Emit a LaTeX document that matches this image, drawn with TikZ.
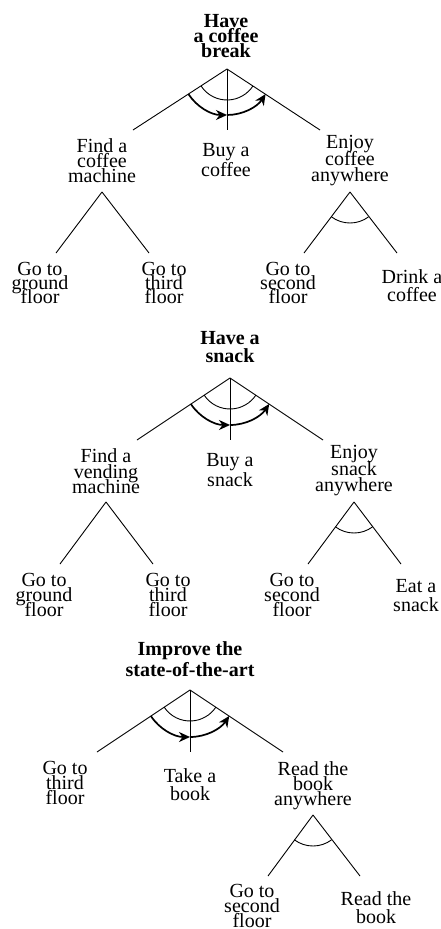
\documentclass[tikz,border=0pt]{standalone}
\usepackage{fontspec}
\setmainfont{Liberation Serif}
\usetikzlibrary{arrows.meta, calc}
\lineskiplimit=-100pt

\begin{document}
\begin{tikzpicture}[
    x=1pt, y=1pt,
    goal/.style={anchor=north, inner sep=0pt, align=center, font=\bfseries\fontsize{20}{#1}\selectfont},
    task/.style={anchor=north, inner sep=0pt, align=center, font=\fontsize{20}{#1}\selectfont},
    edge/.style={line width=0.9pt},
    andarc/.style={line width=0.9pt},
    arrow/.style={->, >={Stealth[length=11pt, width=10pt, inset=3.5pt]}, line width=1.7pt}
]
\useasboundingbox (0,0) rectangle (441,-929);

% coffee break
\node[goal=15] (g1) at (226,-14.5) {Have\\a coffee\\break};
\node[task=15] (a1) at (102,-138.5) {Find a\\coffee\\machine};
\node[task=20] (b1) at (226,-143.5) {Buy a\\coffee};
\node[task=16.5] (c1) at (350,-135.5) {Enjoy\\coffee\\anywhere};
\node[task=14] (a1l) at (40,-262.5) {Go to\\ground\\floor};
\node[task=14] (a1r) at (164,-262.5) {Go to\\third\\floor};
\node[task=14] (c1l) at (288,-262.5) {Go to\\second\\floor};
\node[task=18] (c1r) at (412,-269.5) {Drink a\\coffee};

\coordinate (g1-out) at (227,-69);
\coordinate (a1-in) at (133,-130);
\coordinate (b1-in) at (227,-130);
\coordinate (c1-in) at (320,-130);
\coordinate (a1-out) at (102,-192);
\coordinate (a1l-in) at (56,-253);
\coordinate (a1r-in) at (149,-253);
\coordinate (c1-out) at (350,-192);
\coordinate (c1l-in) at (304,-253);
\coordinate (c1r-in) at (397,-253);

\draw[edge] (g1-out) -- (a1-in);
\draw[edge] (g1-out) -- (b1-in);
\draw[edge] (g1-out) -- (c1-in);
\draw[edge] (a1-out) -- (a1l-in);
\draw[edge] (a1-out) -- (a1r-in);
\draw[edge] (c1-out) -- (c1l-in);
\draw[edge] (c1-out) -- (c1r-in);

\draw[andarc] ([shift={(213:31)}]g1-out) arc[start angle=213, end angle=327, radius=31];
\draw[arrow] ([shift={(213:46)}]g1-out) arc[start angle=213, end angle=270, radius=46];
\draw[arrow] ([shift={(270:46)}]g1-out) arc[start angle=270, end angle=327, radius=46];
\draw[andarc] ([shift={(233:31)}]c1-out) arc[start angle=233, end angle=307, radius=31];

% snack
\node[goal=18] (g2) at (230,-331.5) {Have a\\snack};
\node[task=15.5] (a2) at (106,-448.5) {Find a\\vending\\machine};
\node[task=20] (b2) at (230,-453.5) {Buy a\\snack};
\node[task=16.5] (c2) at (354,-445.5) {Enjoy\\snack\\anywhere};
\node[task=15] (a2l) at (44,-573.5) {Go to\\ground\\floor};
\node[task=15] (a2r) at (168,-573.5) {Go to\\third\\floor};
\node[task=15] (c2l) at (292,-573.5) {Go to\\second\\floor};
\node[task=19] (c2r) at (416,-579.5) {Eat a\\snack};

\coordinate (g2-out) at (230,-378);
\coordinate (a2-in) at (137,-440);
\coordinate (b2-in) at (230,-440);
\coordinate (c2-in) at (323,-440);
\coordinate (a2-out) at (106,-502);
\coordinate (a2l-in) at (60,-564);
\coordinate (a2r-in) at (153,-564);
\coordinate (c2-out) at (354,-502);
\coordinate (c2l-in) at (308,-564);
\coordinate (c2r-in) at (401,-564);

\draw[edge] (g2-out) -- (a2-in);
\draw[edge] (g2-out) -- (b2-in);
\draw[edge] (g2-out) -- (c2-in);
\draw[edge] (a2-out) -- (a2l-in);
\draw[edge] (a2-out) -- (a2r-in);
\draw[edge] (c2-out) -- (c2l-in);
\draw[edge] (c2-out) -- (c2r-in);

\draw[andarc] ([shift={(213.5:31)}]g2-out) arc[start angle=213.5, end angle=326.5, radius=31];
\draw[arrow] ([shift={(213.5:47)}]g2-out) arc[start angle=213.5, end angle=270, radius=47];
\draw[arrow] ([shift={(270:47)}]g2-out) arc[start angle=270, end angle=326.5, radius=47];
\draw[andarc] ([shift={(233:31)}]c2-out) arc[start angle=233, end angle=307, radius=31];

% state of the art
\node[goal=21] (g3) at (190,-641.5) {Improve the\\state-of-the-art};
\node[task=15] (a3) at (65,-761.5) {Go to\\third\\floor};
\node[task=18] (b3) at (190,-768.5) {Take a\\book};
\node[task=15] (c3) at (313,-761.5) {Read the\\book\\anywhere};
\node[task=15] (c3l) at (252,-884.5) {Go to\\second\\floor};
\node[task=18] (c3r) at (376,-891.5) {Read the\\book};

\coordinate (g3-out) at (190,-690);
\coordinate (a3-in) at (97,-752);
\coordinate (b3-in) at (190,-752);
\coordinate (c3-in) at (283,-752);
\coordinate (c3-out) at (313,-815);
\coordinate (c3l-in) at (268,-876);
\coordinate (c3r-in) at (360,-876);

\draw[edge] (g3-out) -- (a3-in);
\draw[edge] (g3-out) -- (b3-in);
\draw[edge] (g3-out) -- (c3-in);
\draw[edge] (c3-out) -- (c3l-in);
\draw[edge] (c3-out) -- (c3r-in);

\draw[andarc] ([shift={(213.5:31)}]g3-out) arc[start angle=213.5, end angle=326.5, radius=31];
\draw[arrow] ([shift={(213.5:47)}]g3-out) arc[start angle=213.5, end angle=270, radius=47];
\draw[arrow] ([shift={(270:47)}]g3-out) arc[start angle=270, end angle=326.5, radius=47];
\draw[andarc] ([shift={(233:31)}]c3-out) arc[start angle=233, end angle=307, radius=31];

\end{tikzpicture}
\end{document}
